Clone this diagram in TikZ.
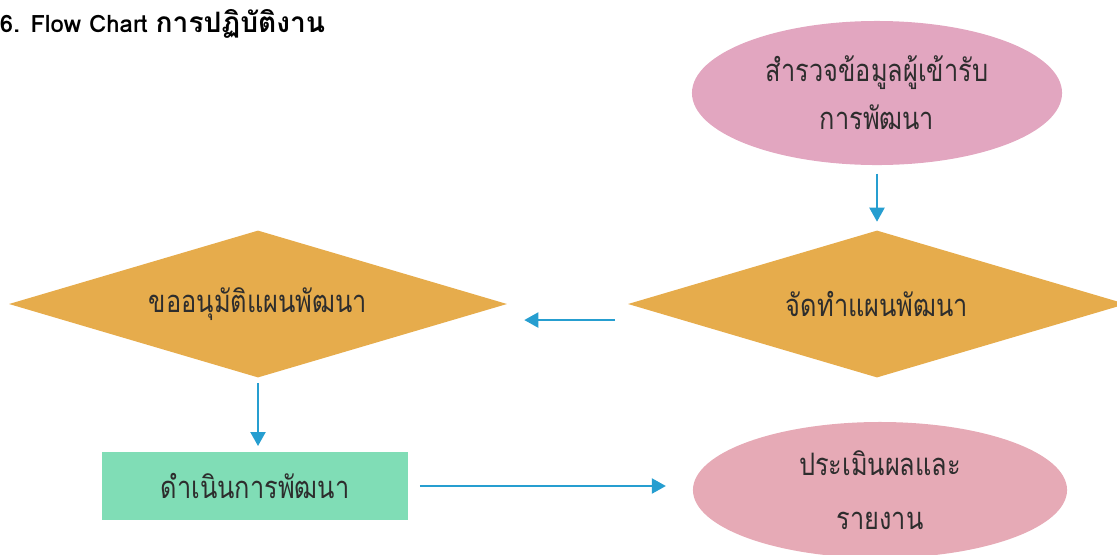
\documentclass[tikz,border=0pt]{standalone}
\usepackage{fontspec}
\newfontfamily\thaifont[Script=Thai]{Loma}
\newfontfamily\thainarrow[Script=Thai, FakeStretch=0.82]{Loma}
\usetikzlibrary{shapes.geometric,arrows.meta}

\definecolor{rosefill}{RGB}{226,166,192}
\definecolor{peachfill}{RGB}{230,170,182}
\definecolor{goldfill}{RGB}{230,172,76}
\definecolor{mintfill}{RGB}{128,221,182}
\definecolor{flowblue}{RGB}{38,158,208}
\definecolor{inkgray}{RGB}{45,45,45}

\tikzset{
    every node/.style={font=\thainarrow\fontsize{22}{26}\selectfont, text=inkgray},
    oval/.style={ellipse, inner sep=0pt, align=center},
    decide/.style={diamond, fill=goldfill, aspect=3.4, inner sep=0pt,
        minimum width=12.45cm, minimum height=3.675cm},
    workbox/.style={rectangle, fill=mintfill, minimum width=7.625cm, minimum height=1.7cm},
    flow/.style={draw=flowblue, line width=2pt, -{Triangle[length=10pt,width=10.5pt]}}
}

\begin{document}
\begin{tikzpicture}[x=0.025cm, y=-0.025cm]
        \useasboundingbox (0, 0) rectangle (1117, 554);

        \node[anchor=base west, font=\thaifont\bfseries\fontsize{17}{20}\selectfont, text=black] (title)
            at (-5, 32) {6. Flow Chart {\fontsize{20}{24}\selectfont การปฏิบัติงาน}};

        \node[oval, fill=rosefill, minimum width=9.25cm, minimum height=3.6cm] (survey)
            at (877, 93) {สำรวจข้อมูลผู้เข้ารับ\\[8pt]การพัฒนา};
        \node[decide] (plan) at (877, 304) {จัดทำแผนพัฒนา};
        \node[decide] (approve) at (258, 304) {ขออนุมัติแผนพัฒนา};
        \node[workbox] (dev) at (255, 486) {ดำเนินการพัฒนา};
        \node[oval, fill=peachfill, minimum width=9.35cm, minimum height=3.4cm] (eval)
            at (880, 490) {ประเมินผลและ\\[12pt]รายงาน};

        \draw[flow, shorten <=6pt, shorten >=6pt] (survey.south) -- (survey.south |- plan.north);
        \draw[flow, shorten <=9pt, shorten >=12pt] ([yshift=-11.4pt]plan.west) -- ([yshift=-11.4pt]approve.east);
        \draw[flow, shorten <=4pt, shorten >=4pt] (approve.south) -- (approve.south |- dev.north);
        \draw[flow, shorten <=8.5pt, shorten >=19pt] (dev.east) -- (dev.east -| eval.west);
    \end{tikzpicture}
\end{document}
